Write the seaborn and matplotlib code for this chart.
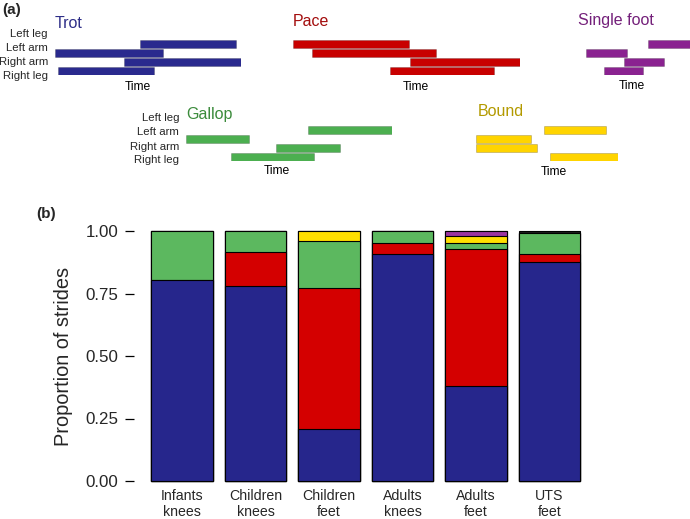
import numpy as np
import pandas as pd
import matplotlib
matplotlib.use("Agg")
import matplotlib.pyplot as plt
import seaborn as sns

sns.set_style("white")
plt.rcParams['font.family'] = ['Liberation Sans', 'DejaVu Sans']

# ---------------- data ----------------
groups = ["Infants\nknees", "Children\nknees", "Children\nfeet",
          "Adults\nknees", "Adults\nfeet", "UTS\nfeet"]
gait_names = ["Trot", "Pace", "Gallop", "Bound", "Single foot", "Other"]
trot = [0.805, 0.78, 0.21, 0.91, 0.38, 0.875]
pace = [0.0, 0.135, 0.563, 0.042, 0.548, 0.033]
gallop = [0.195, 0.085, 0.186, 0.048, 0.025, 0.084]
bound = [0.0, 0.0, 0.041, 0.0, 0.027, 0.0]
single_foot = [0.0, 0.0, 0.0, 0.0, 0.02, 0.0]
other = [0.0, 0.0, 0.0, 0.0, 0.0, 0.008]
yticks = [0.0, 0.25, 0.50, 0.75, 1.00]
ytick_labels = ["0.00", "0.25", "0.50", "0.75", "1.00"]

limbs = ["Left leg", "Left arm", "Right arm", "Right leg"]
# footfall diagrams: stance start / end per limb (time units)
trot_start = [85, 0, 69, 3]
trot_end = [181, 108, 186, 99]
pace_start = [0, 19, 117, 97]
pace_end = [116, 143, 227, 201]
single_start = [62, 0, 38, 18]
single_end = [104, 41, 78, 57]
gallop_start = [122, 0, 90, 45]
gallop_end = [206, 63, 154, 128]
bound_start = [68, 0, 0, 74]
bound_end = [130, 55, 61, 142]

W, H = 690, 519
fig = plt.figure(figsize=(W / 100, H / 100), dpi=100)


def px_axes(x0, y0, x1, y1):
    return fig.add_axes([x0 / W, 1 - y1 / H, (x1 - x0) / W, (y1 - y0) / H])


def fig_text(x, y, s, **kw):
    fig.text(x / W, 1 - y / H, s, **kw)


# ---------------- panel (a) ----------------
diagrams = [
    ("Trot", trot_start, trot_end, (55, 40, 241, 75), "#2a2a8e", "#2e2e88", (55, 23), (138, 87)),
    ("Pace", pace_start, pace_end, (293, 40, 520, 75), "#c80000", "#a30d0d", (293, 21), (416, 87)),
    ("Single foot", single_start, single_end, (586, 40, 690, 75), "#8a2290", "#74207a", (578, 21), (632, 86)),
    ("Gallop", gallop_start, gallop_end, (186, 126, 392, 161), "#4caf50", "#3b8b3b", (186, 114), (277, 171)),
    ("Bound", bound_start, bound_end, (476, 126, 618, 161), "#ffd400", "#b39a00", (478, 112), (554, 172)),
]
for name, st, en, box, col, tcol, tpos, timepos in diagrams:
    ax = px_axes(*box)
    y = np.arange(len(limbs))
    ax.barh(y, np.array(en) - np.array(st), left=st, height=0.92,
            color=col, edgecolor=matplotlib.colors.to_rgba("black", 0.25), linewidth=0.5)
    ax.set_xlim(0, box[2] - box[0])
    ax.set_ylim(3.5, -0.5)
    ax.axis("off")
    fig_text(tpos[0], tpos[1], name, color=tcol, fontsize=11.5, ha="left", va="center")
    fig_text(timepos[0], timepos[1], "Time", color="black", fontsize=8.7, ha="center", va="center")

for lab, yy in zip(limbs, [34, 48, 62, 76]):
    fig_text(48, yy, lab, fontsize=8.2, ha="right", va="center")
for lab, yy in zip(limbs, [118, 132, 147, 160]):
    fig_text(179, yy, lab, fontsize=8.2, ha="right", va="center")

fig_text(2, 10, "(a)", fontsize=11, fontweight="bold", ha="left", va="center")
fig_text(36, 214, "(b)", fontsize=11, fontweight="bold", ha="left", va="center")

# ---------------- panel (b) ----------------
axb = px_axes(134, 226, 597.5, 486)
layers = [trot, pace, gallop, bound, single_foot, other]
colors = ["#26268c", "#d40000", "#5cb85f", "#ffdf00", "#9a35a0", "#222222"]
cum = np.cumsum(np.array(layers), axis=0)
df_rows = []
for i, name in enumerate(gait_names):
    for g, v in zip(groups, cum[i]):
        df_rows.append({"group": g, "gait": name, "top": v})
df = pd.DataFrame(df_rows)

for i in range(len(gait_names) - 1, -1, -1):
    sub = df[df["gait"] == gait_names[i]]
    sns.barplot(data=sub, x="group", y="top", order=groups, color=colors[i],
                saturation=1, edgecolor="black", linewidth=0.8, width=0.84,
                errorbar=None, ax=axb)

axb.set_xlim(-0.653, 5.653)
axb.set_ylim(-0.02, 1.02)
axb.set_xlabel("")
axb.set_ylabel("Proportion of strides", fontsize=14.4, labelpad=9)
axb.set_yticks(yticks)
axb.set_yticklabels(ytick_labels, fontsize=12.2)
axb.tick_params(axis="y", length=6.5, width=0.9, pad=5, left=True, color="black")
axb.tick_params(axis="x", length=0, pad=2, labelsize=10.2)
for t in axb.get_xticklabels():
    t.set_linespacing(1.2)
for s in axb.spines.values():
    s.set_visible(False)

fig.savefig("out.png", dpi=100)
